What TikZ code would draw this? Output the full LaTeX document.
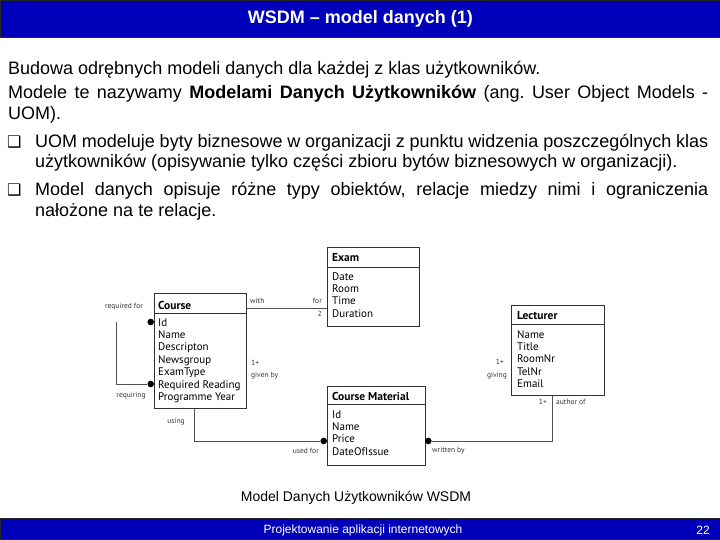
\documentclass[tikz,border=0pt]{standalone}
\usepackage{fontspec}
\setmainfont{Liberation Sans}
\newfontfamily\umlfont{PT Sans}
\newfontfamily\dingfont{DejaVu Sans}
\definecolor{slideblue}{RGB}{0,0,186}
\definecolor{umlline}{RGB}{50,50,50}
\frenchspacing
\tikzset{
  bar/.style={fill=slideblue, draw=black!85, line width=0.8pt, inner sep=0pt, minimum width=720pt},
  entity/.style={draw=umlline, line width=0.9pt, inner sep=0pt, anchor=north west},
  ehead/.style={font=\umlfont\bfseries\fontsize{11.5}{12}\selectfont, anchor=base west, inner sep=0pt},
  eattr/.style={font=\umlfont\fontsize{11}{12.4}\selectfont, align=left, anchor=north west, inner sep=0pt},
  rel/.style={draw=umlline!85, line width=0.7pt},
  role/.style={font=\umlfont\fontsize{7.5}{8}\selectfont, text=black!80, inner sep=0pt},
  dot/.style={circle, fill=black, inner sep=0pt, minimum size=6.6pt},
  bodyline/.style={font=\fontsize{18}{21}\selectfont, anchor=base west, inner sep=0pt},
  bullet/.style={font=\dingfont\fontsize{16}{16}\selectfont, anchor=base west, inner sep=0pt},
}
\begin{document}
\begin{tikzpicture}[x=1pt,y=-1pt]
  \useasboundingbox (0,0) rectangle (720,540);

  % title and footer bars
  \node[bar, minimum height=37pt, anchor=north west, text=white,
        font=\bfseries\fontsize{18}{20}\selectfont] (titlebar) at (0,0) {WSDM -- model danych (1)};
  \node[bar, minimum height=21pt, anchor=south west] (footbar) at (0,540) {};
  \node[text=white, font=\fontsize{12}{14}\selectfont] (foottext) at (363,530) {Projektowanie aplikacji internetowych};
  \node[text=white, font=\fontsize{12}{14}\selectfont] (pagenum) at (703,530) {22};

  % body text
  \node[bodyline] (l1) at (8,75) {Budowa odrębnych modeli danych dla każdej z klas użytkowników.};
  \node[bodyline] (l2) at (8,99) {\makebox[700pt][s]{Modele te nazywamy \textbf{Modelami Danych Użytkowników} (ang. User Object Models -}};
  \node[bodyline] (l3) at (8,120) {UOM).};
  \node[bullet] (b1) at (7,148) {❑};
  \node[bodyline] (b1a) at (35,148) {\makebox[673pt][s]{UOM modeluje byty biznesowe w organizacji z punktu widzenia poszczególnych klas}};
  \node[bodyline] (b1b) at (35,168) {użytkowników (opisywanie tylko części zbioru bytów biznesowych w organizacji).};
  \node[bullet] (b2) at (7,196) {❑};
  \node[bodyline] (b2a) at (35,196) {\makebox[673pt][s]{Model danych opisuje różne typy obiektów, relacje miedzy nimi i ograniczenia}};
  \node[bodyline] (b2b) at (35,216) {nałożone na te relacje.};

  % entities
  \node[entity, minimum width=92pt, minimum height=115pt] (course) at (154,293) {};
  \draw[entity] ([yshift=-20pt]course.north west) -- ([yshift=-20pt]course.north east);
  \node[ehead] (coursehd) at (158,309) {Course};
  \node[eattr] (courseat) at (158,317.3) {\strut Id\\Name\\Descripton\\Newsgroup\\ExamType\\Required Reading\\Programme Year};

  \node[entity, minimum width=92pt, minimum height=79pt] (exam) at (327,247) {};
  \draw[entity] ([yshift=-20pt]exam.north west) -- ([yshift=-20pt]exam.north east);
  \node[ehead] (examhd) at (332,261) {Exam};
  \node[eattr] (examat) at (332,271.3) {\strut Date\\Room\\Time\\Duration};

  \node[entity, minimum width=93pt, minimum height=90pt] (lecturer) at (511,305) {};
  \draw[entity] ([yshift=-19pt]lecturer.north west) -- ([yshift=-19pt]lecturer.north east);
  \node[ehead] (lecturerhd) at (517,319) {Lecturer};
  \node[eattr] (lecturerat) at (517,329.3) {\strut Name\\Title\\RoomNr\\TelNr\\Email};

  \node[entity, minimum width=98pt, minimum height=79pt] (material) at (327,386) {};
  \draw[entity] ([yshift=-18pt]material.north west) -- ([yshift=-18pt]material.north east);
  \node[ehead] (materialhd) at (332,400) {Course Material};
  \node[eattr] (materialat) at (332,409.3) {\strut Id\\Name\\Price\\DateOfIssue};

  % relations
  \draw[rel] ([yshift=-15pt]course.north east) -- ([yshift=-15pt]course.north east -| exam.west);
  \node[role, anchor=west] (with) at (250,301) {with};
  \node[role, anchor=east] (for) at (322,301) {for};
  \node[role, anchor=east] (two) at (322,314) {2};

  \node[dot] (iddot) at (150.7,322) {};
  \node[dot] (rrdot) at (150.7,384) {};
  \coordinate (reqtop) at (116,322);
  \draw[rel] (reqtop) |- (rrdot);
  \node[role] (reqfor) at (124,307) {required for};
  \node[role] (requiring) at (131,396) {requiring};

  \node[role, anchor=west] (onegiven) at (251,363) {1+};
  \node[role, anchor=west] (givenby) at (251,376) {given by};
  \node[role, anchor=east] (onegiving) at (504,362) {1+};
  \node[role, anchor=east] (giving) at (507,376) {giving};

  \node[dot] (usedot) at (323.7,441) {};
  \draw[rel] ([xshift=40pt]course.south west) |- (usedot);
  \node[role] (using) at (176,422) {using};
  \node[role, anchor=east] (usedfor) at (319,451) {used for};

  \node[dot] (wrdot) at (428.3,441) {};
  \draw[rel] (wrdot) -| ([xshift=41pt]lecturer.south west);
  \node[role, anchor=west] (writtenby) at (432,451) {written by};
  \node[role, anchor=east] (oneauthor) at (547,402) {1+};
  \node[role, anchor=west] (authorof) at (556,402) {author of};

  % caption
  \node[font=\fontsize{14}{16}\selectfont] (caption) at (356,498) {Model Danych Użytkowników WSDM};
\end{tikzpicture}
\end{document}
